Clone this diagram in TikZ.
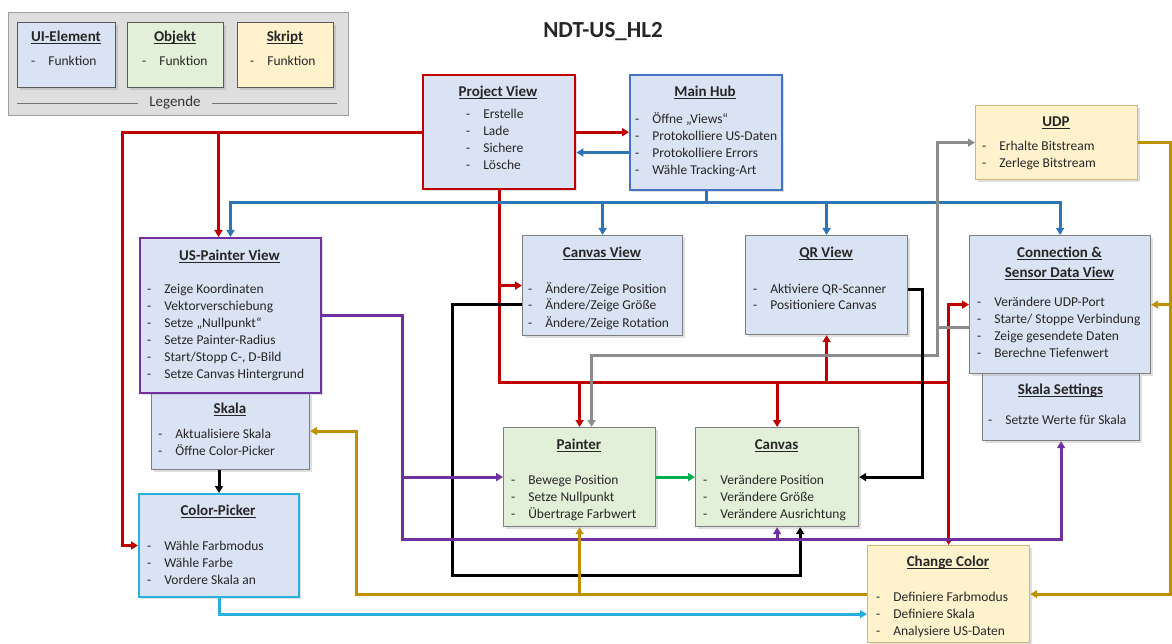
\documentclass[tikz,border=0pt]{standalone}
\usepackage{fontspec}
\setmainfont{Carlito}
\usetikzlibrary{arrows.meta,shadows}

\definecolor{uiblau}{HTML}{DAE3F3}
\definecolor{objgruen}{HTML}{E2F0D9}
\definecolor{skrgelb}{HTML}{FFF2CC}
\definecolor{legc}{HTML}{DEDEDE}
\definecolor{legrand}{HTML}{A0A0A0}
\definecolor{randc}{HTML}{7F7F7F}
\definecolor{tanc}{HTML}{D2B473}
\definecolor{rotc}{HTML}{C00000}
\definecolor{blauc}{HTML}{2E75B6}
\definecolor{hubc}{HTML}{4472C4}
\definecolor{lilac}{HTML}{7030A0}
\definecolor{goldc}{HTML}{BF9000}
\definecolor{gruenc}{HTML}{00B050}
\definecolor{cyanc}{HTML}{27B0DB}
\definecolor{grauc}{HTML}{8C8C8C}

\newcommand{\unter}[1]{\setbox0\hbox{#1}\rlap{\rule[-2.2pt]{\wd0}{1.1pt}}\box0}
\newcommand{\punkte}[1]{\begin{tabular}[t]{@{}l@{\hspace{13pt}}l@{}}#1\end{tabular}}

\tikzset{
  grund/.style={rectangle, anchor=north west, inner sep=0pt, draw=randc, line width=1.2pt},
  box/.style={grund, drop shadow={shadow xshift=2pt, shadow yshift=-2pt, opacity=0.25}},
  ui/.style={box, fill=uiblau},
  obj/.style={box, fill=objgruen},
  skr/.style={box, fill=skrgelb, draw=tanc},
  ttl/.style={anchor=base, inner sep=0pt, text=black!85, font=\fontsize{15}{18}\selectfont\bfseries},
  lst/.style={anchor=base west, inner sep=0pt, text=black!85, font=\fontsize{13.5}{17}\selectfont},
  linie/.style={line width=3pt},
  rotlinie/.style={linie, draw=rotc},
  blaulinie/.style={linie, draw=blauc},
  graulinie/.style={linie, draw=grauc},
  schwarzlinie/.style={linie, draw=black},
  lilalinie/.style={linie, draw=lilac},
  gruenlinie/.style={linie, draw=gruenc},
  goldlinie/.style={linie, draw=goldc},
  cyanlinie/.style={linie, draw=cyanc}
}

\begin{document}
\begin{tikzpicture}[x=1pt, y=-1pt, >={Triangle[length=7pt,width=8pt]}]
  \useasboundingbox (0,0) rectangle (1172,644);

  %%%%% LEGENDE %%%%%
  \node[grund, fill=legc, draw=legrand, minimum width=340pt, minimum height=103pt] (leg) at (8,12) {};
  \node[ui, draw=black!65, minimum width=98pt, minimum height=65pt] (legUI) at (17,22) {};
  \node[obj, draw=black!65, minimum width=96pt, minimum height=65pt] (legObj) at (127,22) {};
  \node[skr, draw=black!65, minimum width=96pt, minimum height=65pt] (legSkr) at (237,22) {};
  \node[ttl] at (66,41.5) {\unter{UI-Element}};
  \node[ttl] at (175,41.5) {\unter{Objekt}};
  \node[ttl] at (285,41.5) {\unter{Skript}};
  \node[lst] at (31,66) {\punkte{- & Funktion}};
  \node[lst] at (142,66) {\punkte{- & Funktion}};
  \node[lst] at (250,66) {\punkte{- & Funktion}};
  \node[text=black!80, font=\fontsize{15}{18}\selectfont] (legT) at (175,103) {Legende};
  \draw[black!55, line width=0.8pt] ([xshift=-8pt]legT.west) -- ++(-121,0);
  \draw[black!55, line width=0.8pt] ([xshift=8pt]legT.east) -- ++(125,0);

  \node[font=\fontsize{23}{27}\selectfont\bfseries, text=black!85] (titel) at (603,32) {NDT-US\_HL2};

  %%%%% BOXEN %%%%%
  \node[ui, draw=rotc, line width=2.4pt, minimum width=152pt, minimum height=114pt] (pv) at (422,74) {};
  \node[ttl] at (498,96.5) {\unter{Project View}};
  \node[lst] at (466,119) {\punkte{- & Erstelle\\ - & Lade\\ - & Sichere\\ - & Lösche}};

  \node[ui, draw=hubc, line width=2pt, minimum width=152pt, minimum height=115pt] (mh) at (629,74) {};
  \node[ttl] at (705,96.5) {\unter{Main Hub}};
  \node[lst] at (635,124) {\punkte{- & Öffne „Views“\\ - & Protokolliere US-Daten\\ - & Protokolliere Errors\\ - & Wähle Tracking-Art}};

  \node[skr, minimum width=162pt, minimum height=74pt] (udp) at (975,105) {};
  \node[ttl] at (1056,126.5) {\unter{UDP}};
  \node[lst] at (982,151) {\punkte{- & Erhalte Bitstream\\ - & Zerlege Bitstream}};

  \node[ui, minimum width=158pt, minimum height=77pt] (sk) at (151,392) {};
  \node[ttl] at (230,413.5) {\unter{Skala}};
  \node[lst] at (158,438) {\punkte{- & Aktualisiere Skala\\ - & Öffne Color-Picker}};

  \node[ui, draw=lilac, line width=2pt, minimum width=181pt, minimum height=155pt] (usp) at (139,237) {};
  \node[ttl] at (229.5,260.5) {\unter{US-Painter View}};
  \node[lst] at (147,294) {\punkte{- & Zeige Koordinaten\\ - & Vektorverschiebung\\ - & Setze „Nullpunkt“\\ - & Setze Painter-Radius\\ - & Start/Stopp C-, D-Bild\\ - & Setze Canvas Hintergrund}};

  \node[ui, minimum width=160pt, minimum height=100pt] (cv) at (522,235) {};
  \node[ttl] at (602,257.5) {\unter{Canvas View}};
  \node[lst] at (528,293) {\punkte{- & Ändere/Zeige Position\\ - & Ändere/Zeige Größe\\ - & Ändere/Zeige Rotation}};

  \node[ui, minimum width=162pt, minimum height=99pt] (qr) at (745,235) {};
  \node[ttl] at (826,257.5) {\unter{QR View}};
  \node[lst] at (753,293) {\punkte{- & Aktiviere QR-Scanner\\ - & Positioniere Canvas}};

  \node[ui, minimum width=157pt, minimum height=67pt] (ss) at (982,373) {};
  \node[ttl] at (1060.5,394.5) {\unter{Skala Settings}};
  \node[lst] at (988,424) {\punkte{- & Setzte Werte für Skala}};

  \node[ui, minimum width=181pt, minimum height=138pt] (con) at (969,235) {};
  \node[ttl] at (1059.5,257.5) {\unter{Connection \&}};
  \node[ttl] at (1059.5,277.5) {\unter{Sensor Data View}};
  \node[lst] at (977,306) {\punkte{- & Verändere UDP-Port\\ - & Starte/ Stoppe Verbindung\\ - & Zeige gesendete Daten\\ - & Berechne Tiefenwert}};

  \node[ui, draw=cyanc, line width=2pt, minimum width=160pt, minimum height=103pt] (cp) at (138,493) {};
  \node[ttl] at (218,515.5) {\unter{Color-Picker}};
  \node[lst] at (147,550) {\punkte{- & Wähle Farbmodus\\ - & Wähle Farbe\\ - & Vordere Skala an}};

  \node[obj, minimum width=152pt, minimum height=99pt] (pt) at (503,427) {};
  \node[ttl] at (579,449.5) {\unter{Painter}};
  \node[lst] at (511,484) {\punkte{- & Bewege Position\\ - & Setze Nullpunkt\\ - & Übertrage Farbwert}};

  \node[obj, minimum width=163pt, minimum height=99pt] (cvs) at (695,427) {};
  \node[ttl] at (776.5,449.5) {\unter{Canvas}};
  \node[lst] at (703,484) {\punkte{- & Verändere Position\\ - & Verändere Größe\\ - & Verändere Ausrichtung}};

  \node[skr, minimum width=162pt, minimum height=97pt] (cc) at (867,545) {};
  \node[ttl] at (948,566.5) {\unter{Change Color}};
  \node[lst] at (876,601) {\punkte{- & Definiere Farbmodus\\ - & Definiere Skala\\ - & Analysiere US-Daten}};

  %%%%% VERBINDUNGEN %%%%%
  % rot
  \coordinate (rotS) at (122,0);
  \coordinate (uspR) at ([xshift=-12pt]usp.north);
  \coordinate (rotZ) at (0,382);
  \draw[rotlinie,->] (pv.east) -- (pv.east -| mh.west);
  \draw[rotlinie,->] (pv.west) -| (rotS |- cp.west) -- (cp.west);
  \draw[rotlinie,->] (uspR |- pv.west) -- (uspR);
  \draw[rotlinie] (pv.south) -- (pv.south |- rotZ) -- (cc.north |- rotZ);
  \draw[rotlinie,->] (pv.south |- cv.west) -- (cv.west);
  \foreach \n in {pt,cvs} \draw[rotlinie,->] (\n.north |- rotZ) -- (\n.north);
  \draw[rotlinie,->] (qr.south |- rotZ) -- (qr.south);
  \draw[rotlinie,<->] (con.west) -| (cc.north);

  % blau
  \coordinate (mhB) at ([yshift=-20pt]mh.west);
  \coordinate (blauZ) at (0,203);
  \draw[blaulinie,->] (mhB) -- (mhB -| pv.east);
  \draw[blaulinie,->] (mh.south) |- (usp.north |- blauZ) -- (usp.north);
  \draw[blaulinie,->] (mh.south |- blauZ) -| (con.north);
  \foreach \n in {cv,qr} \draw[blaulinie,->] (\n.north |- blauZ) -- (\n.north);

  % grau
  \coordinate (grauS) at (937,0);
  \coordinate (grauZ) at (0,355);
  \coordinate (conG) at ([yshift=-23pt]con.west);
  \coordinate (ptG) at ([xshift=12pt]pt.north);
  \draw[graulinie] (conG) -- (conG -| grauS);
  \draw[graulinie,<->] (ptG) |- (grauS |- grauZ) |- (udp.west);

  % schwarz
  \coordinate (cvK) at ([yshift=-19pt]cv.west);
  \coordinate (schwS) at (452,0);
  \coordinate (schwZ) at (0,575);
  \coordinate (cvsK) at ([xshift=23pt]cvs.south);
  \coordinate (qrK) at ([yshift=-4pt]qr.east);
  \coordinate (schwS2) at (922,0);
  \draw[schwarzlinie,->] (cvK) -| (schwS |- schwZ) -| (cvsK);
  \draw[schwarzlinie,->] (qrK) -| (schwS2 |- cvs.east) -- (cvs.east);
  \draw[schwarzlinie,->] (cp.north |- sk.south) -- (cp.north);

  % lila
  \coordinate (lilaS) at (402,0);
  \coordinate (lilaZ) at (0,539);
  \draw[lilalinie,->] (usp.east) -| (lilaS |- lilaZ) -| (ss.south);
  \draw[lilalinie,->] (lilaS |- pt.west) -- (pt.west);
  \draw[lilalinie,->] (cvs.south |- lilaZ) -- (cvs.south);

  % gruen
  \draw[gruenlinie,->] (pt.east) -- (cvs.west);

  % gold
  \coordinate (goldS) at (1170,0);
  \coordinate (goldS2) at (356,0);
  \draw[goldlinie,->] (udp.east) -| (goldS |- cc.east) -- (cc.east);
  \draw[goldlinie,->] (goldS |- con.east) -- (con.east);
  \draw[goldlinie,->] (cc.west) -| (goldS2 |- sk.east) -- (sk.east);
  \draw[goldlinie,->] (pt.south |- cc.west) -- (pt.south);

  % cyan
  \coordinate (ccC) at ([yshift=-20pt]cc.west);
  \draw[cyanlinie,->] (cp.south) |- (ccC);
\end{tikzpicture}
\end{document}
